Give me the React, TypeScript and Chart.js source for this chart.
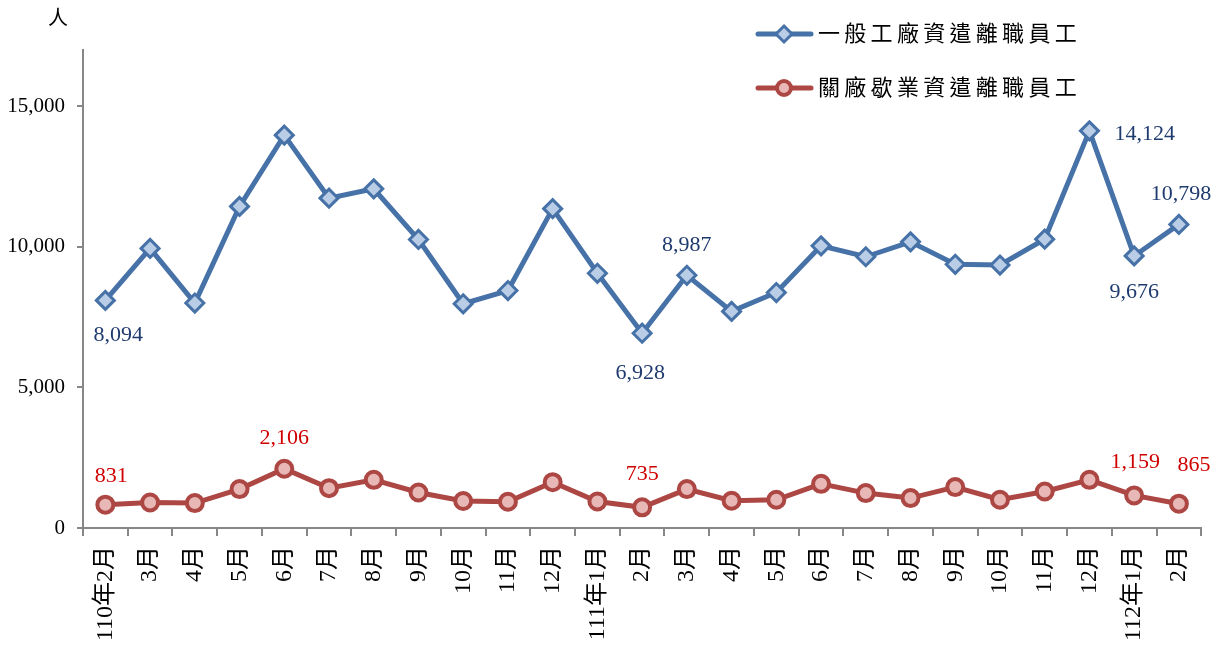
import React, { useEffect, useRef } from 'react';
import { Chart, registerables } from 'chart.js';
Chart.register(...registerables);

const categories = [
  '110年2月', '3月', '4月', '5月', '6月', '7月', '8月', '9月', '10月', '11月', '12月',
  '111年1月', '2月', '3月', '4月', '5月', '6月', '7月', '8月', '9月', '10月', '11月', '12月',
  '112年1月', '2月',
];
const seriesNames = ['一般工廠資遣離職員工', '關廠歇業資遣離職員工'];
const generalValues = [
  8094, 9943, 8000, 11438, 13972, 11731, 12063, 10261, 7975, 8445, 11357, 9060,
  6928, 8987, 7703, 8375, 10035, 9647, 10177, 9378, 9353, 10272, 14124, 9676, 10798,
];
const closureValues = [
  831, 908, 887, 1383, 2106, 1418, 1713, 1262, 960, 933, 1631, 943,
  735, 1383, 968, 1004, 1571, 1241, 1064, 1454, 1004, 1298, 1713, 1159, 865,
];
const yTickValues = [0, 5000, 10000, 15000];
const yUnit = '人';
const generalLabeled = [0, 12, 13, 22, 23, 24];
const closureLabeled = [0, 4, 12, 23, 24];

const SERIF = "'Liberation Serif', 'Times New Roman', 'Noto Sans CJK TC', serif";
const BLUE = '#4672A8';
const BLUE_FILL = '#BACDE6';
const RED = '#AD4744';
const RED_FILL = '#E8B8B7';
const AXIS = '#878787';
const BLUE_TEXT = '#1F3A6E';
const RED_TEXT = '#D00000';

const fmt = (v: number) => v.toLocaleString('en-US');

export default function App() {
  const ref = useRef<HTMLCanvasElement | null>(null);
  useEffect(() => {
    document.body.style.margin = '0';
    const generalPlace: Record<number, [number, number, CanvasTextAlign]> = {
      0: [13, 35, 'center'],
      12: [-2, 40, 'center'],
      13: [0, -30, 'center'],
      22: [25, 3, 'left'],
      23: [0, 36, 'center'],
      24: [2, -30, 'center'],
    };
    const closurePlace: Record<number, [number, number, CanvasTextAlign]> = {
      0: [6, -28, 'center'],
      4: [0, -31, 'center'],
      12: [0, -33, 'center'],
      23: [1, -33, 'center'],
      24: [15, -38, 'center'],
    };
    const custom = {
      id: 'customDecor',
      afterDraw(chart: any) {
        const ctx = chart.ctx as CanvasRenderingContext2D;
        ctx.save();
        ctx.font = `22px ${SERIF}`;
        ctx.textBaseline = 'middle';
        const m0 = chart.getDatasetMeta(0);
        generalLabeled.forEach((i) => {
          const pt = m0.data[i];
          const [dx, dy, al] = generalPlace[i] || [0, -30, 'center'];
          ctx.fillStyle = BLUE_TEXT;
          ctx.textAlign = al;
          ctx.fillText(fmt(generalValues[i]), pt.x + dx, pt.y + dy);
        });
        const m1 = chart.getDatasetMeta(1);
        closureLabeled.forEach((i) => {
          const pt = m1.data[i];
          const [dx, dy, al] = closurePlace[i] || [0, -30, 'center'];
          ctx.fillStyle = RED_TEXT;
          ctx.textAlign = al;
          ctx.fillText(fmt(closureValues[i]), pt.x + dx, pt.y + dy);
        });
        ctx.fillStyle = '#000';
        ctx.font = `20px ${SERIF}`;
        ctx.textAlign = 'center';
        ctx.fillText(yUnit, 58, 20);
        const rows = [
          { y: 34, color: BLUE, fill: BLUE_FILL, style: 'rectRot', name: seriesNames[0] },
          { y: 88, color: RED, fill: RED_FILL, style: 'circle', name: seriesNames[1] },
        ];
        rows.forEach((r) => {
          ctx.strokeStyle = r.color;
          ctx.lineWidth = 5;
          ctx.lineCap = 'round';
          ctx.beginPath();
          ctx.moveTo(758, r.y);
          ctx.lineTo(811, r.y);
          ctx.stroke();
          ctx.fillStyle = r.fill;
          ctx.lineWidth = r.style === 'circle' ? 4 : 3;
          if (r.style === 'circle') {
            ctx.beginPath();
            ctx.arc(784, r.y, 7, 0, Math.PI * 2);
            ctx.fill();
            ctx.stroke();
          } else {
            ctx.beginPath();
            ctx.moveTo(784, r.y - 8);
            ctx.lineTo(792, r.y);
            ctx.lineTo(784, r.y + 8);
            ctx.lineTo(776, r.y);
            ctx.closePath();
            ctx.fill();
            ctx.stroke();
          }
          ctx.fillStyle = '#000';
          ctx.font = `22px ${SERIF}`;
          ctx.textAlign = 'left';
          const chars = Array.from(r.name);
          chars.forEach((c, k) => ctx.fillText(c, 818 + k * 26.3, r.y + 1));
        });
        ctx.restore();
      },
    };
    const chart = new Chart(ref.current as HTMLCanvasElement, {
      type: 'line',
      data: {
        labels: categories,
        datasets: [
          {
            label: seriesNames[0],
            data: generalValues,
            borderColor: BLUE,
            backgroundColor: BLUE_FILL,
            borderWidth: 5,
            pointStyle: 'rectRot',
            pointRadius: 9,
            pointBorderWidth: 3,
            pointBorderColor: BLUE,
            pointBackgroundColor: BLUE_FILL,
            tension: 0,
          },
          {
            label: seriesNames[1],
            data: closureValues,
            borderColor: RED,
            backgroundColor: RED_FILL,
            borderWidth: 5,
            pointStyle: 'circle',
            pointRadius: 8,
            pointBorderWidth: 4,
            pointBorderColor: RED,
            pointBackgroundColor: RED_FILL,
            tension: 0,
          },
        ],
      },
      options: {
        responsive: true,
        maintainAspectRatio: false,
        animation: false,
        layout: { padding: { top: 50, right: 15, left: 0, bottom: 0 } },
        plugins: { legend: { display: false }, tooltip: { enabled: false } },
        scales: {
          x: {
            type: 'category',
            offset: true,
            grid: { offset: true, drawOnChartArea: false, drawTicks: true, tickLength: 8, color: AXIS, lineWidth: 2 },
            border: { color: AXIS, width: 2 },
            ticks: {
              autoSkip: false,
              maxRotation: 90,
              minRotation: 90,
              padding: 10,
              color: '#000',
              font: { family: SERIF, size: 24 },
            },
            afterFit: (s: any) => { s.height = 127; },
          },
          y: {
            min: 0,
            max: 17000,
            afterBuildTicks: (s: any) => { s.ticks = yTickValues.map((v) => ({ value: v })); },
            grid: { drawOnChartArea: false, drawTicks: true, tickLength: 6, color: AXIS, lineWidth: 2 },
            border: { color: AXIS, width: 2 },
            ticks: {
              padding: 12,
              color: '#000',
              font: { family: SERIF, size: 21 },
              callback: (v: any) => fmt(Number(v)),
            },
            afterFit: (s: any) => { s.width = 83; },
          },
        },
      },
      plugins: [custom],
    });
    return () => chart.destroy();
  }, []);
  return (
    <div style={{ width: 1218, height: 655, position: 'relative' }}>
      <canvas ref={ref} />
    </div>
  );
}
